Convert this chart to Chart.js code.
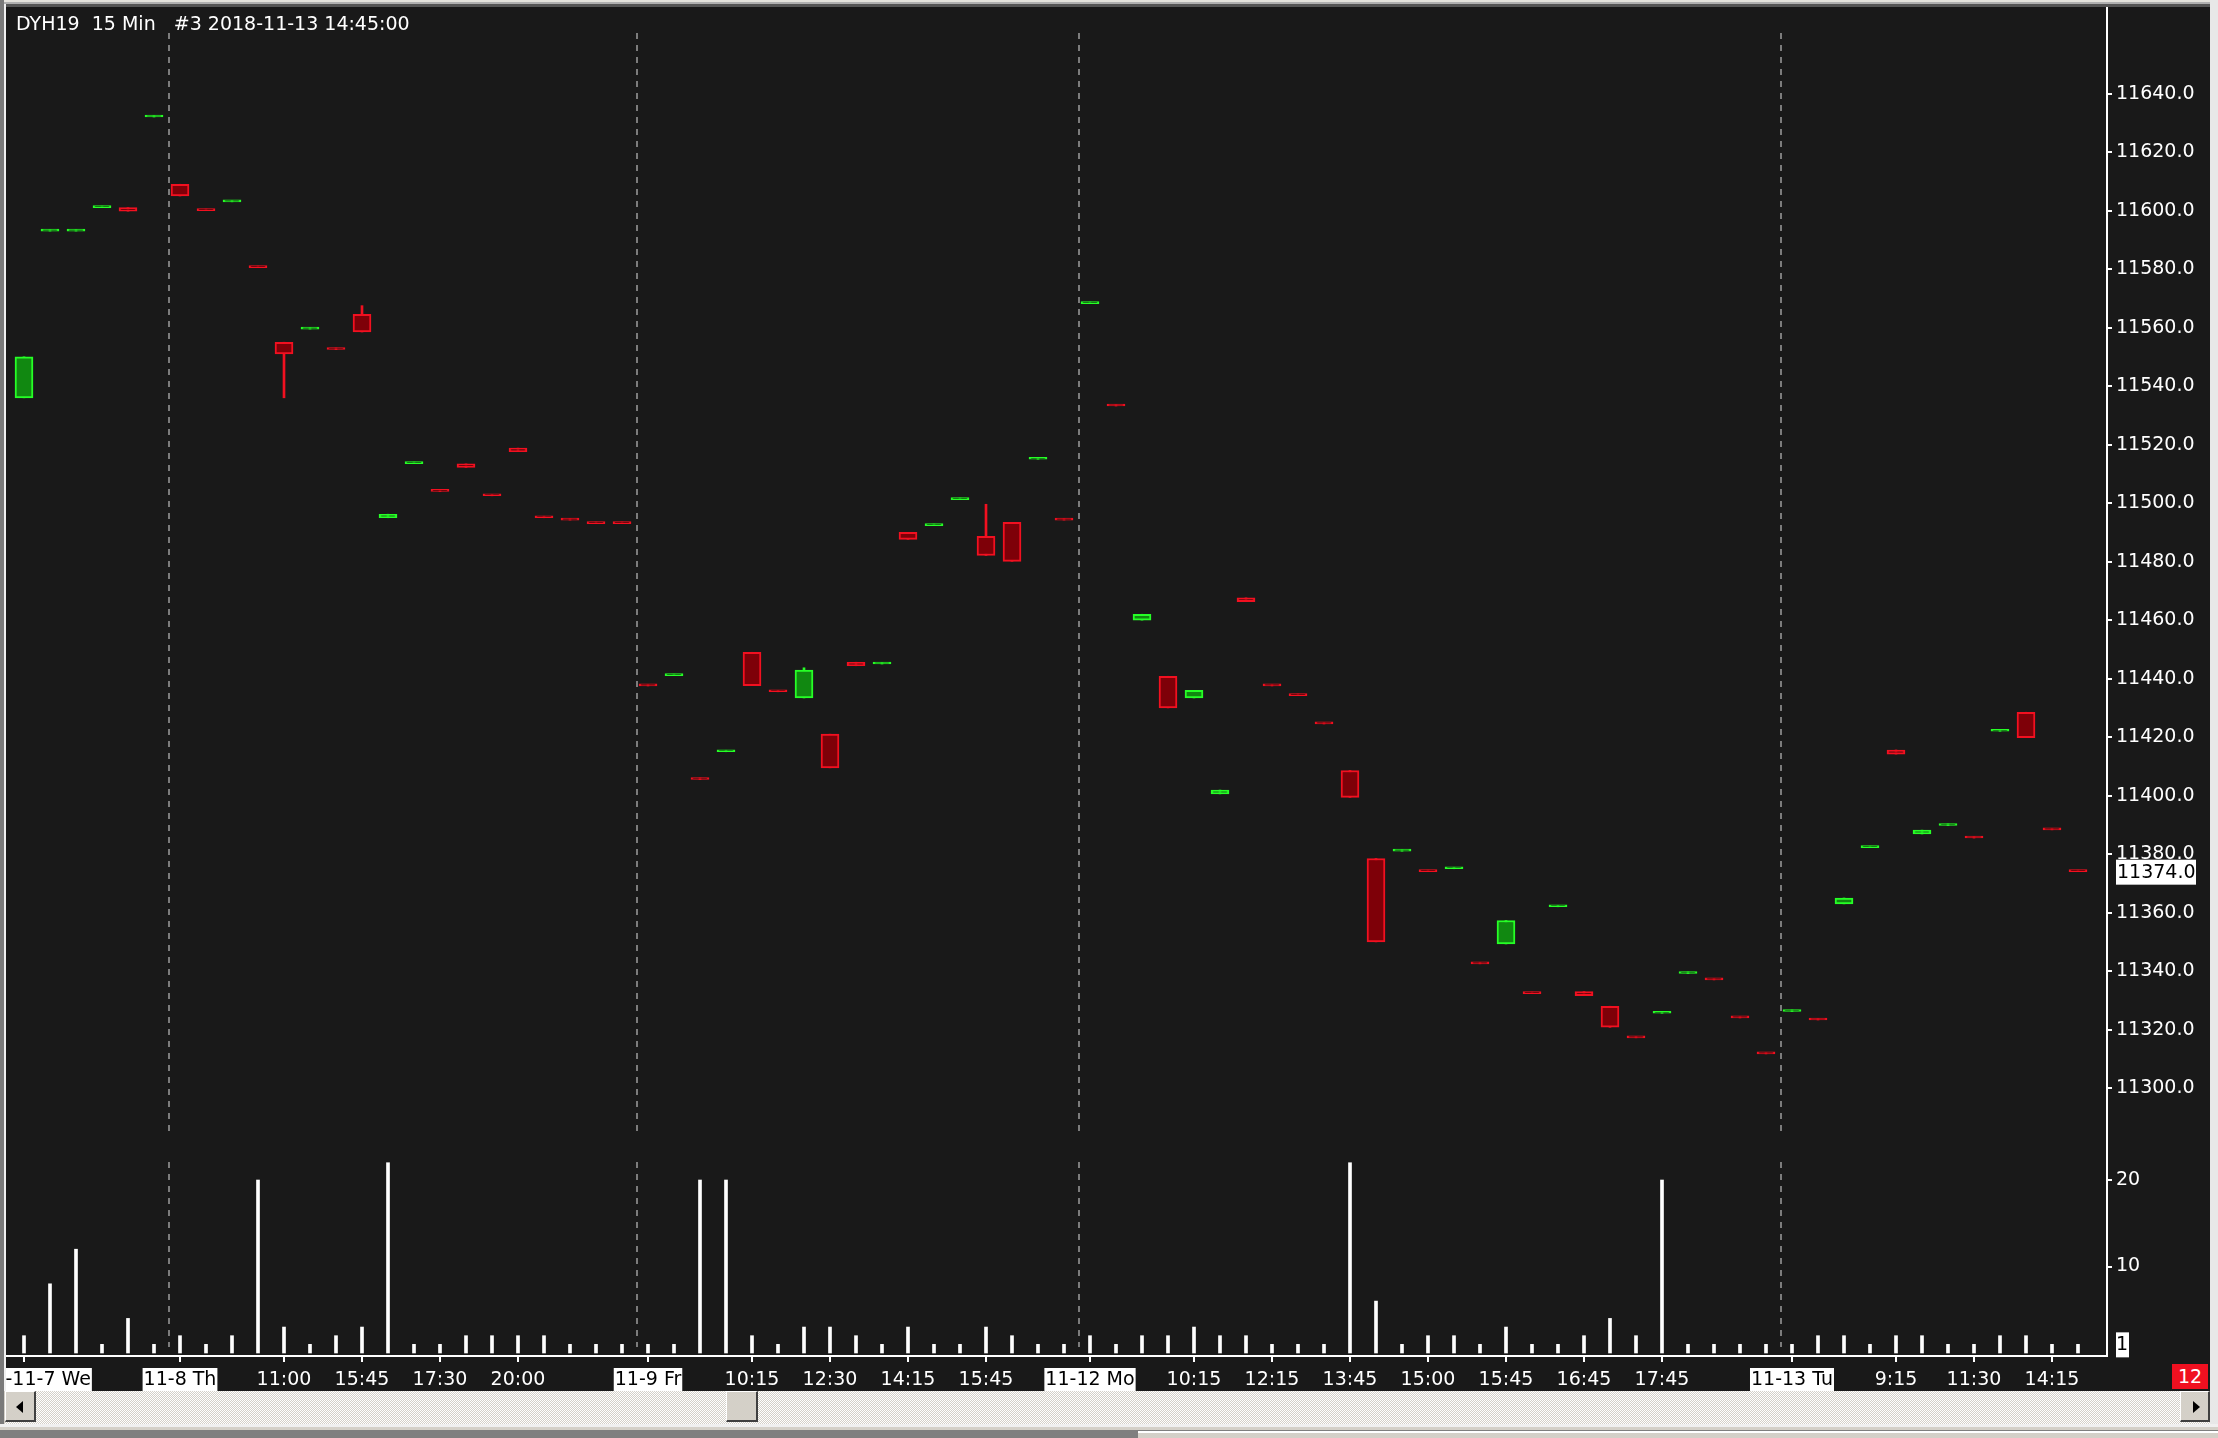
<!DOCTYPE html>
<html lang="en">
<head>
  <meta charset="UTF-8">
  <title>DYH19 15 Min</title>
  <script src="https://cdn.jsdelivr.net/npm/chart.js@4.4.2/dist/chart.umd.min.js"></script>
  <style>
    html, body { margin: 0; padding: 0; }
    body {
      width: 2218px; height: 1438px; overflow: hidden; position: relative;
      background: #d4d0c8;
      font-family: 'DejaVu Sans', sans-serif;
    }
    .abs { position: absolute; }
    #panel { left: 6px; top: 7px; width: 2204px; height: 1384px; background: #191919; }
    #wrap { left: 6px; top: 7px; width: 2204px; height: 1384px; }
    #title {
      left: 16px; top: 12px; color: #fff; font-size: 19px; line-height: 22px;
      white-space: pre;
    }
    #barCount {
      left: 2172px; top: 1364px; width: 36px; height: 25px; background: #f01020;
      color: #fff; font-size: 19px; line-height: 25px; text-align: center;
    }
    #scroll {
      left: 5px; top: 1391px; width: 2205px; height: 33px;
      background: repeating-conic-gradient(#d4d0c8 0 25%, #ffffff 0 50%) 0 0 / 2px 2px;
    }
    .btn {
      top: 1391px; height: 31px; background: #d4d0c8;
      border-top: 1px solid #fff; border-left: 1px solid #fff;
      border-bottom: 2px solid #404040; border-right: 2px solid #404040;
      box-sizing: border-box;
    }
    .tri { width: 0; height: 0; top: 9px; border-top: 6px solid transparent; border-bottom: 6px solid transparent; }
  </style>
</head>
<body>
  <div class="abs" style="left:0;top:0;width:2218px;height:2px;background:#e4e2dc"></div>
  <div class="abs" style="left:0;top:2px;width:2218px;height:2px;background:#b0b0b0"></div>
  <div class="abs" style="left:0;top:4px;width:2218px;height:3px;background:#555"></div>
  <div class="abs" style="left:0;top:0;width:4px;height:1424px;background:#7a7a7a"></div>
  <div class="abs" style="left:4px;top:4px;width:2px;height:1387px;background:#f0f0f0"></div>
  <div class="abs" style="left:2210px;top:0;width:8px;height:1424px;background:#e8e8e8"></div>
  <div class="abs" id="panel"></div>
  <div class="abs" id="wrap"><canvas id="chart" width="2204" height="1384"></canvas></div>
  <div class="abs" id="title">DYH19  15 Min   #3 2018-11-13 14:45:00</div>
  <div class="abs" id="barCount">12</div>
  <div class="abs" id="scroll"></div>
  <div class="abs btn" style="left:5px;width:31px"><div class="abs tri" style="left:10px;border-right:7px solid #000"></div></div>
  <div class="abs btn" style="left:726px;width:32px"></div>
  <div class="abs btn" style="left:2180px;width:30px"><div class="abs tri" style="left:12px;border-left:7px solid #000"></div></div>
  <div class="abs" style="left:0;top:1424px;width:2218px;height:3px;background:#f0f0f0"></div>
  <div class="abs" style="left:0;top:1427px;width:2218px;height:3px;background:#d4d0c8"></div>
  <div class="abs" style="left:0;top:1430px;width:2218px;height:8px;background:#7f7f7f"></div>
  <div class="abs" style="left:1138px;top:1431px;width:1080px;height:7px;background:#d4d0c8;border-top:2px solid #fff"></div>

  <script>
    // 15 minute bars, index 0..79
    const opens = [
      11536, 11593, 11593, 11601, 11601, 11632, 11609, 11600.5, 11603, 11581,
      11555, 11559.5, 11553, 11564.5, 11495, 11513.5, 11504.5, 11513.4, 11503, 11518.8,
      11495.5, 11494.7, 11493.5, 11493.5, 11438, 11441, 11406, 11415, 11449, 11436,
      11433.4, 11421, 11445.6, 11445, 11490, 11492.3, 11501.2, 11488.6, 11493.4, 11515,
      11494.7, 11568.2, 11533.7, 11460, 11440.8, 11433.4, 11400.6, 11467.6, 11438, 11434.7,
      11425, 11408.6, 11378.5, 11381, 11374.5, 11375, 11343, 11349.3, 11332.8, 11362,
      11333, 11328, 11317.7, 11325.6, 11339.2, 11337.5, 11324.5, 11312.2, 11326.2, 11323.8,
      11363, 11382.2, 11415.6, 11386.9, 11389.8, 11386, 11422, 11428.5, 11388.8, 11374.5
    ];
    const highs = [
      11550, 11593.5, 11593.5, 11601.5, 11601, 11632.5, 11609, 11600.5, 11603.5, 11581,
      11555, 11560, 11553, 11567.5, 11496.2, 11514, 11504.5, 11513.4, 11503, 11518.8,
      11495.5, 11494.7, 11493.5, 11493.5, 11438, 11441.5, 11406, 11415.5, 11449, 11436,
      11443.7, 11421, 11445.6, 11445.5, 11490, 11492.8, 11501.7, 11499.6, 11493.4, 11515.5,
      11494.7, 11568.7, 11533.7, 11462, 11440.8, 11436, 11401.9, 11467.6, 11438, 11434.7,
      11425, 11408.6, 11378.5, 11381.5, 11374.5, 11375.5, 11343, 11357.3, 11332.8, 11362.5,
      11333, 11328, 11317.7, 11326.1, 11339.7, 11337.5, 11324.5, 11312.2, 11326.7, 11323.8,
      11365, 11382.7, 11415.6, 11388.2, 11390.3, 11386, 11422.5, 11428.5, 11388.8, 11374.5
    ];
    const lows = [
      11536, 11593, 11593, 11601, 11599.8, 11632, 11605, 11600, 11603, 11580.5,
      11536, 11559.5, 11552.5, 11558.5, 11495, 11513.5, 11504, 11512.2, 11502.5, 11517.6,
      11495, 11494.2, 11493, 11493, 11437.5, 11441, 11405.5, 11415, 11437.6, 11435.5,
      11433.4, 11409.5, 11444.4, 11445, 11487.6, 11492.3, 11501.2, 11482.1, 11480.1, 11515,
      11494.2, 11568.2, 11533.2, 11460, 11430, 11433.4, 11400.6, 11466.3, 11437.5, 11434.2,
      11424.5, 11399.4, 11350, 11381, 11374, 11375, 11342.5, 11349.3, 11332.3, 11362,
      11331.6, 11320.8, 11317.2, 11325.6, 11339.2, 11337, 11324, 11311.7, 11326.2, 11323.3,
      11363, 11382.2, 11414.2, 11386.9, 11389.8, 11385.5, 11422, 11419.8, 11388.3, 11374
    ];
    const closes = [
      11550, 11593.5, 11593.5, 11601.5, 11599.8, 11632.5, 11605, 11600, 11603.5, 11580.5,
      11551, 11560, 11552.5, 11558.5, 11496.2, 11514, 11504, 11512.2, 11502.5, 11517.6,
      11495, 11494.2, 11493, 11493, 11437.5, 11441.5, 11405.5, 11415.5, 11437.6, 11435.5,
      11442.9, 11409.5, 11444.4, 11445.5, 11487.6, 11492.8, 11501.7, 11482.1, 11480.1, 11515.5,
      11494.2, 11568.7, 11533.2, 11462, 11430, 11436, 11401.9, 11466.3, 11437.5, 11434.2,
      11424.5, 11399.4, 11350, 11381.5, 11374, 11375.5, 11342.5, 11357.3, 11332.3, 11362.5,
      11331.6, 11320.8, 11317.2, 11326.1, 11339.7, 11337, 11324, 11311.7, 11326.7, 11323.3,
      11365, 11382.7, 11414.2, 11388.2, 11390.3, 11385.5, 11422.5, 11419.8, 11388.3, 11374
    ];
    const volumes = [
      2, 8, 12, 1, 4, 1, 2, 1, 2, 20,
      3, 1, 2, 3, 22, 1, 1, 2, 2, 2,
      2, 1, 1, 1, 1, 1, 20, 20, 2, 1,
      3, 3, 2, 1, 3, 1, 1, 3, 2, 1,
      1, 2, 1, 2, 2, 3, 2, 2, 1, 1,
      1, 22, 6, 1, 2, 2, 1, 3, 1, 1,
      2, 4, 2, 20, 1, 1, 1, 1, 1, 2,
      2, 1, 2, 2, 1, 1, 2, 2, 1, 1
    ];

    // x axis labels (bar index -> text), first bars of each day get a white box
    const tickIdx = [0, 6, 10, 13, 16, 19, 24, 28, 31, 34, 37, 41, 45, 48, 51, 54, 57, 60, 63, 68, 72, 75, 78];
    const tickLabels = ['2018-11-7 We', '11-8 Th', '11:00', '15:45', '17:30', '20:00', '11-9 Fr',
      '10:15', '12:30', '14:15', '15:45', '11-12 Mo', '10:15', '12:15', '13:45', '15:00',
      '15:45', '16:45', '17:45', '11-13 Tu', '9:15', '11:30', '14:15'];
    const dayStarts = [0, 6, 24, 41, 68];
    const priceTicks = [11300, 11320, 11340, 11360, 11380, 11400, 11420, 11440, 11460,
      11480, 11500, 11520, 11540, 11560, 11580, 11600, 11620, 11640];
    const volTicks = [10, 20];

    const UP_LINE = '#26ff26', UP_FILL = '#118811';
    const DN_LINE = '#f21020', DN_FILL = '#7e0008';
    const isUp = i => closes[i] >= opens[i];
    const idx = opens.map((_, i) => i);

    Chart.defaults.font.family = "'DejaVu Sans', sans-serif";
    Chart.defaults.font.size = 19;
    Chart.defaults.color = '#fff';

    const sessionLines = {
      id: 'sessionLines',
      beforeDatasetsDraw(chart) {
        const { ctx, scales: { x, y, yv } } = chart;
        ctx.save();
        ctx.strokeStyle = '#7c7c7c';
        ctx.lineWidth = 2;
        ctx.setLineDash([6, 6]);
        dayStarts.slice(1).forEach(d => {
          const px = Math.round(x.getPixelForValue(d - 0.5)) + 2;
          ctx.beginPath();
          ctx.moveTo(px, y.top + 26);
          ctx.lineTo(px, y.bottom - 19);
          ctx.moveTo(px, yv.top + 12);
          ctx.lineTo(px, yv.bottom - 9);
          ctx.stroke();
        });
        ctx.restore();
      }
    };

    const lastValue = {
      id: 'lastValue',
      afterDraw(chart) {
        const { ctx, scales: { y, yv } } = chart;
        const last = closes.length - 1;
        ctx.save();
        ctx.font = "19px 'DejaVu Sans'";
        ctx.textBaseline = 'middle';
        ctx.textAlign = 'left';
        const py = y.getPixelForValue(closes[last]);
        ctx.fillStyle = '#fff';
        ctx.fillRect(y.left + 9, py - 12, 80, 25);
        ctx.fillStyle = '#000';
        ctx.fillText(closes[last].toFixed(1), y.left + 10, py + 1);
        const vy = yv.getPixelForValue(volumes[last]);
        ctx.fillStyle = '#fff';
        ctx.fillRect(yv.left + 9, vy - 12, 13, 25);
        ctx.fillStyle = '#000';
        ctx.fillText(String(volumes[last]), yv.left + 9, vy + 1);
        ctx.restore();
      }
    };

    new Chart(document.getElementById('chart'), {
      type: 'bar',
      data: {
        datasets: [
          {
            label: 'wick',
            yAxisID: 'y',
            data: idx.map(i => ({ x: i, y: [lows[i], highs[i]] })),
            backgroundColor: idx.map(i => isUp(i) ? UP_LINE : DN_LINE),
            barThickness: 2,
            grouped: false,
            order: 3
          },
          {
            label: 'body',
            yAxisID: 'y',
            data: idx.map(i => ({ x: i, y: [opens[i], closes[i]] })),
            backgroundColor: idx.map(i => isUp(i) ? UP_FILL : DN_FILL),
            borderColor: idx.map(i => isUp(i) ? UP_LINE : DN_LINE),
            borderWidth: 2,
            borderSkipped: false,
            barThickness: 18,
            minBarLength: 2,
            grouped: false,
            order: 2
          },
          {
            label: 'volume',
            yAxisID: 'yv',
            data: idx.map(i => ({ x: i, y: volumes[i] })),
            backgroundColor: '#ffffff',
            barThickness: 3,
            grouped: false,
            order: 1
          }
        ]
      },
      options: {
        responsive: false,
        devicePixelRatio: 1,
        animation: false,
        layout: { padding: 0, autoPadding: false },
        plugins: { legend: { display: false }, tooltip: { enabled: false } },
        scales: {
          x: {
            type: 'linear',
            position: 'bottom',
            min: -0.6923,
            max: 80.1154,
            offset: false,
            afterBuildTicks: s => { s.ticks = tickIdx.map(v => ({ value: v })); },
            afterFit: s => { s.height = 35; s.paddingLeft = 0; s.paddingRight = 0; },
            ticks: {
              autoSkip: false,
              maxRotation: 0,
              padding: 7,
              callback: v => tickLabels[tickIdx.indexOf(v)],
              color: c => dayStarts.includes(c.tick && c.tick.value) ? '#000' : '#fff',
              showLabelBackdrop: c => dayStarts.includes(c.tick && c.tick.value),
              backdropColor: '#fff',
              backdropPadding: { x: 1, y: 1 }
            },
            grid: { drawOnChartArea: false, offset: false, color: '#fff', lineWidth: 2, tickLength: 6 },
            border: { color: '#fff', width: 2 }
          },
          y: {
            type: 'linear',
            position: 'right',
            stack: 'panes',
            stackWeight: 1143,
            min: 11278.85,
            max: 11669.6,
            afterBuildTicks: s => { s.ticks = priceTicks.map(v => ({ value: v })); },
            afterFit: s => { s.width = 103; s.paddingTop = 0; s.paddingBottom = 0; },
            ticks: { padding: 4, callback: v => v.toFixed(1) },
            grid: { drawOnChartArea: false, color: '#fff', lineWidth: 2, tickLength: 5 },
            border: { color: '#fff', width: 2 }
          },
          yv: {
            type: 'linear',
            position: 'right',
            stack: 'panes',
            stackWeight: 206,
            min: -0.347,
            max: 23.47,
            afterBuildTicks: s => { s.ticks = volTicks.map(v => ({ value: v })); },
            afterFit: s => { s.width = 103; s.paddingTop = 0; s.paddingBottom = 0; },
            ticks: { padding: 4, callback: v => String(v) },
            grid: { drawOnChartArea: false, color: '#fff', lineWidth: 2, tickLength: 5 },
            border: { color: '#fff', width: 2 }
          }
        }
      },
      plugins: [sessionLines, lastValue]
    });
  </script>
</body>
</html>
